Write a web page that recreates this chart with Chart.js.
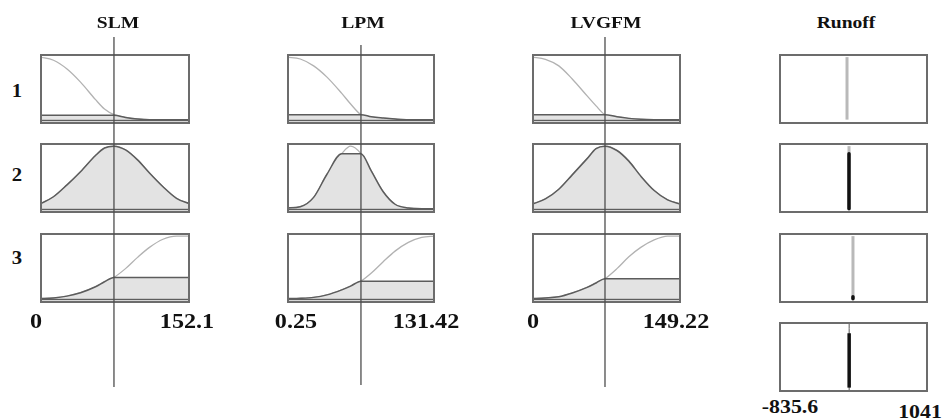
<!DOCTYPE html>
<html>
<head>
<meta charset="utf-8">
<script src="https://cdn.jsdelivr.net/npm/chart.js@4.4.1/dist/chart.umd.min.js"></script>
<style>
  html, body { margin: 0; padding: 0; background: #fff; }
  #wrap { position: relative; width: 947px; height: 419px; overflow: hidden; background: #fff; }
  canvas { position: absolute; }
  .lbl {
    position: absolute; line-height: 1; white-space: nowrap; color: #111;
    font-family: "Liberation Serif", "Times New Roman", serif; font-weight: bold;
    transform: translate(-50%, -50%) scaleX(1.15);
  }
</style>
</head>
<body>
<div id="wrap"></div>
<script>
// ---- values ----
const inputNames = ['SLM', 'LPM', 'LVGFM']
const outputName = 'Runoff'
const ruleLabels = ['1', '2', '3']

// SLM
const slmRange = [0, 152.1]
const slmInput = 75
const slmX   = [0, 13.7, 27.4, 41.1, 56.3, 65.4, 75, 86.7, 98.9, 111, 124.7, 138.4, 152.1]
const slmMf1 = [1.0, 0.95, 0.81, 0.60, 0.32, 0.17, 0.08, 0.035, 0.01, 0, 0, 0, 0]
const slmMf2 = [0.075, 0.19, 0.38, 0.59, 0.85, 0.97, 1.0, 0.94, 0.78, 0.57, 0.35, 0.165, 0.075]
const slmMf3 = [0, 0.01, 0.04, 0.095, 0.19, 0.27, 0.34, 0.48, 0.66, 0.82, 0.95, 1.0, 1.0]
const slmLevels = [0.07, 1.0, 0.34]

// LPM
const lpmRange = [0.25, 131.42]
const lpmInput = 65.8
const lpmX   = [0.25, 12.05, 23.86, 35.67, 48.78, 56.65, 65.8, 75.02, 85.51, 96.0, 107.81, 119.61, 131.42]
const lpmMf1 = [1.0, 0.97, 0.86, 0.68, 0.42, 0.25, 0.08, 0.045, 0.025, 0.01, 0, 0, 0]
const lpmMf2 = [0.01, 0.03, 0.18, 0.55, 0.88, 1.0, 0.88, 0.6, 0.27, 0.07, 0.01, 0, 0]
const lpmMf3 = [0, 0.005, 0.02, 0.06, 0.14, 0.2, 0.28, 0.41, 0.59, 0.76, 0.9, 0.98, 1.0]
const lpmLevels = [0.08, 0.88, 0.28]

// LVGFM
const lvgfmRange = [0, 149.22]
const lvgfmInput = 73.1
const lvgfmX   = [0, 13.43, 26.86, 40.29, 55.21, 64.16, 73.1, 85.06, 96.99, 108.93, 122.36, 135.79, 149.22]
const lvgfmMf1 = [1.0, 0.965, 0.86, 0.65, 0.38, 0.22, 0.08, 0.045, 0.02, 0.005, 0, 0, 0]
const lvgfmMf2 = [0.07, 0.155, 0.31, 0.54, 0.8, 0.96, 1.0, 0.93, 0.76, 0.52, 0.29, 0.14, 0.07]
const lvgfmMf3 = [0, 0.01, 0.03, 0.09, 0.18, 0.25, 0.32, 0.48, 0.67, 0.82, 0.94, 1.0, 1.0]
const lvgfmLevels = [0.08, 1.0, 0.32]

// Runoff (singleton outputs per rule, firing strength, aggregated output)
const runoffRange = [-835.6, 1041]
const runoffRuleOut = [21, 46, 96]
const runoffRuleFire = [0, 0.88, 0.03]
const runoffOutput = 48
const runoffOutFire = 0.87

// ---- layout (pixels) ----
const yMin = -0.07, yMax = 1.05
const boxH = 70
const rowTops = [54, 143, 233]
const inputCols = [
    { left: 40,  right: 190, title: 118, lineTop: 37, lineBottom: 387, lo: 36,    hi: 186.5 },
    { left: 287, right: 435, title: 363, lineTop: 45, lineBottom: 385, lo: 295.5, hi: 426 },
    { left: 532, right: 681, title: 606, lineTop: 37, lineBottom: 387, lo: 532.5, hi: 676 },
]
const outCol = { left: 779, right: 928, title: 846, rows: [54, 143, 233, 322] }

const inputs = [
    { range: slmRange, input: slmInput, x: slmX, mfs: [slmMf1, slmMf2, slmMf3], levels: slmLevels },
    { range: lpmRange, input: lpmInput, x: lpmX, mfs: [lpmMf1, lpmMf2, lpmMf3], levels: lpmLevels },
    { range: lvgfmRange, input: lvgfmInput, x: lvgfmX, mfs: [lvgfmMf1, lvgfmMf2, lvgfmMf3], levels: lvgfmLevels },
]

const wrap = document.getElementById('wrap')

// box outline + zero line
const framePlugin = {
    id: 'frame',
    afterDatasetsDraw(chart, args, opts) {
        const { ctx, chartArea: a } = chart
        ctx.save()
        if (opts.baseline) {
            let y0 = Math.round(chart.scales.y.getPixelForValue(0)) + 0.5
            ctx.strokeStyle = '#5e5e5e'
            ctx.lineWidth = 1.5
            ctx.beginPath()
            ctx.moveTo(a.left, y0)
            ctx.lineTo(a.right, y0)
            ctx.stroke()
        }
        ctx.strokeStyle = '#6c6c6c'
        ctx.lineWidth = 2
        ctx.strokeRect(a.left + 1, a.top + 1, a.width - 2, a.height - 2)
        ctx.restore()
    }
}
Chart.register(framePlugin)

function makeCanvas(left, top, w, h) {
    let c = document.createElement('canvas')
    c.width = w
    c.height = h
    c.style.left = left + 'px'
    c.style.top = top + 'px'
    c.style.width = w + 'px'
    c.style.height = h + 'px'
    wrap.appendChild(c)
    return c
}

function makeLabel(text, x, y, size) {
    let d = document.createElement('div')
    d.className = 'lbl'
    d.textContent = text
    d.style.left = x + 'px'
    d.style.top = y + 'px'
    d.style.fontSize = size + 'px'
    wrap.appendChild(d)
}

function options(range, ymin, ymax, frame) {
    return {
        responsive: false,
        animation: false,
        events: [],
        layout: { padding: 0 },
        plugins: {
            legend: { display: false },
            tooltip: { enabled: false },
            frame: frame
        },
        scales: {
            x: { type: 'linear', display: false, min: range[0], max: range[1] },
            y: { type: 'linear', display: false, min: ymin, max: ymax }
        },
        elements: {
            point: { radius: 0 },
            line: { cubicInterpolationMode: 'monotone' }
        }
    }
}

// input membership function boxes
inputs.forEach((v, col) => {
    let c = inputCols[col]
    v.mfs.forEach((mf, row) => {
        let level = v.levels[row]
        let mfPts = v.x.map((x, i) => ({ x: x, y: mf[i] }))
        let fillPts = v.x.map((x, i) => ({ x: x, y: Math.min(mf[i], level) }))
        new Chart(makeCanvas(c.left, rowTops[row], c.right - c.left, boxH), {
            type: 'line',
            data: {
                datasets: [
                    { data: fillPts, fill: 'origin', backgroundColor: '#e3e3e3',
                      borderColor: '#5c5c5c', borderWidth: 1.5, order: 0 },
                    { data: mfPts, fill: false, borderColor: '#b2b2b2', borderWidth: 1.3, order: 1 }
                ]
            },
            options: options(v.range, yMin, yMax, { baseline: true })
        })
    })
})

// output boxes: one per rule, then the aggregate
outCol.rows.forEach((top, row) => {
    let datasets
    if (row < runoffRuleOut.length) {
        let x = runoffRuleOut[row]
        let fire = runoffRuleFire[row]
        datasets = [
            { data: [{ x: x, y: 0 }, { x: x, y: fire }],
              borderColor: '#111', borderWidth: 3.5,
              borderCapStyle: fire > 0 ? 'round' : 'butt', order: 0 },
            { data: [{ x: x, y: 0 }, { x: x, y: 1 }],
              borderColor: '#b9b9b9', borderWidth: 3, order: 1 }
        ]
    } else {
        datasets = [
            { data: [{ x: runoffOutput, y: 0 }, { x: runoffOutput, y: runoffOutFire }],
              borderColor: '#111', borderWidth: 3.5, order: 0 },
            { data: [{ x: runoffOutput, y: yMin }, { x: runoffOutput, y: yMax }],
              borderColor: '#555', borderWidth: 1, order: 1 }
        ]
    }
    new Chart(makeCanvas(outCol.left, top, outCol.right - outCol.left, boxH), {
        type: 'line',
        data: { datasets: datasets },
        options: options(runoffRange, yMin, yMax, { baseline: false })
    })
})

// input value lines across each column
inputs.forEach((v, col) => {
    let c = inputCols[col]
    new Chart(makeCanvas(c.left, c.lineTop, c.right - c.left, c.lineBottom - c.lineTop), {
        type: 'line',
        data: {
            datasets: [{ data: [{ x: v.input, y: 0 }, { x: v.input, y: 1 }],
                         borderColor: '#4e4e4e', borderWidth: 1.3 }]
        },
        options: options(v.range, 0, 1, false)
    })
})

// texts
inputNames.forEach((name, col) => {
    let c = inputCols[col]
    makeLabel(name, c.title, 21.5, 17)
    makeLabel(String(inputs[col].range[0]), c.lo, 320.5, 21)
    makeLabel(String(inputs[col].range[1]), c.hi, 320.5, 21)
})
makeLabel(outputName, outCol.title, 21.5, 17)
makeLabel(String(runoffRange[0]), 790, 405.5, 19)
makeLabel(String(runoffRange[1]), 920, 410.5, 19)
ruleLabels.forEach((t, i) => makeLabel(t, 17, [91, 175, 258][i], 18))
</script>
</body>
</html>
